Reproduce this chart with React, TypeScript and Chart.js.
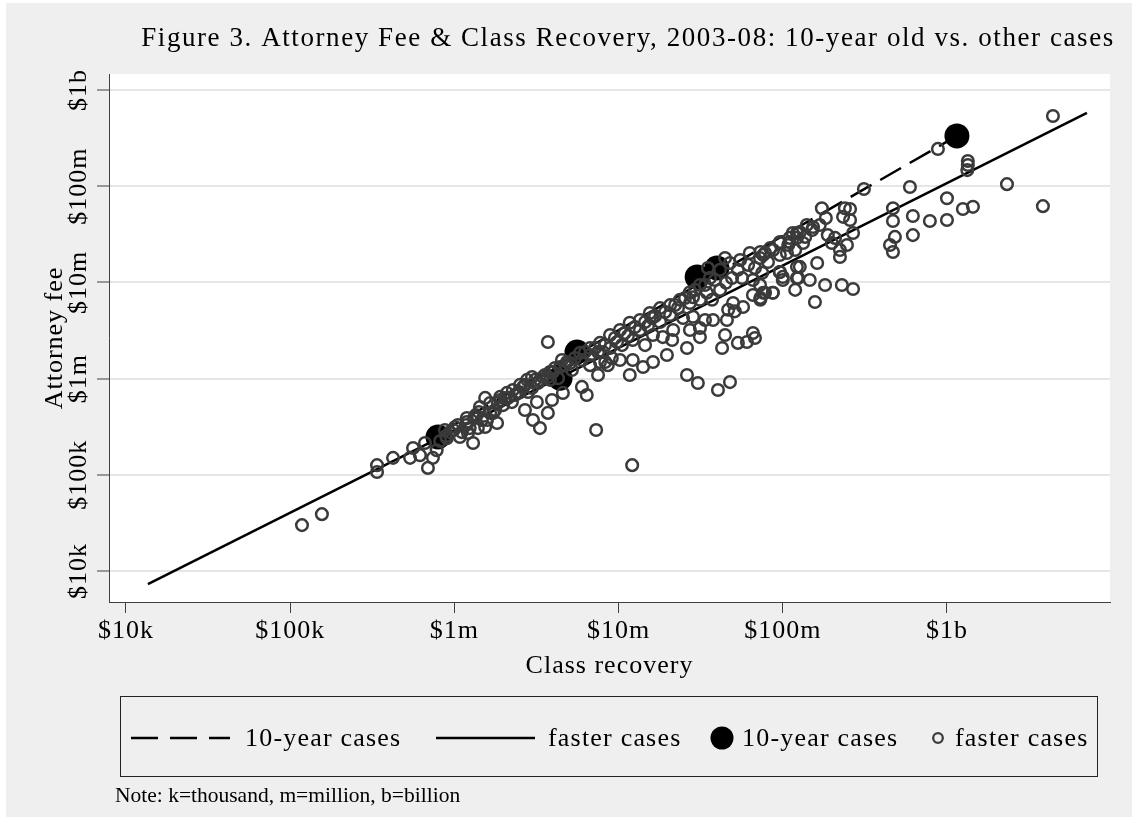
import { useEffect, useRef } from "react";
import { Chart, registerables } from "chart.js";

Chart.register(...registerables);

const W = 1132;
const H = 817;
const FONT = '"Liberation Serif", "DejaVu Serif", serif';
const BG = "#efefef";
const AXIS = "#404040";
const GRID = "#e6e6e6";

const titleText = "Figure 3. Attorney Fee & Class Recovery, 2003-08: 10-year old vs. other cases";
const xTitle = "Class recovery";
const yTitle = "Attorney fee";
const noteText = "Note: k=thousand, m=million, b=billion";
const tickValues = [1e4, 1e5, 1e6, 1e7, 1e8, 1e9];
const tickLabels = ["$10k", "$100k", "$1m", "$10m", "$100m", "$1b"];
const legendLabels = ["10-year cases", "faster cases", "10-year cases", "faster cases"];

// values in $ millions
const tenYearRecovery = [0.794, 4.4, 5.58, 30.1, 39.7, 1150];
const tenYearFee = [0.247, 1.01, 1.89, 11.4, 14.1, 333];

const tenYearFitRecovery = [0.794, 1150];
const tenYearFitFee = [0.266, 333];
const fasterFitRecovery = [0.0136, 7120];
const fasterFitFee = [0.0073, 577];

const fasterRecovery = [
  0.118, 0.156, 0.338, 0.338, 0.423, 0.537, 0.56, 0.662, 0.69, 0.74, 0.78, 0.82, 0.89, 0.94,
  0.876, 0.9, 0.617,
  0.99, 1.01, 1.21, 1.19, 1.3, 1.43, 1.54, 1.54, 1.72, 1.82, 1.9, 1.19, 1.05, 1.11, 1.24, 1.35,
  1.65, 1.77, 2.03, 2.34, 2.69, 2.81, 3.1, 3.56, 4.1, 4.72, 5.42, 6.24, 7.19, 8.27, 9.5,
  1.9, 2.09, 2.27, 2.62, 3.32, 3.82, 4.4, 5.07, 5.82, 6.7, 7.7, 8.87, 10.2, 11.7, 13.5, 15.5,
  17.9, 20.6, 23.7, 27.2, 31.3, 36, 41.5, 47.7, 55, 63, 73, 84, 96, 110, 122,
  10.9, 12.6, 14.5, 16.7, 19.2, 22.1, 25.4, 29.2, 33.6, 38.7, 44.5, 35,
  1.08, 1.18, 1.32, 1.41, 1.47, 1.65, 1.84, 1.98, 2.12, 2.24, 2.44, 2.51, 2.77, 2.97, 3.23, 3.46,
  3.82, 3.98, 4.28, 4.85, 5.2, 5.98, 6.7, 7.5, 7.7, 8.04, 8.87, 9.78, 10.5, 11.4, 12.2, 13.5,
  15.1, 16, 17.9, 20.6, 23, 24.7, 27.2, 28.4, 31.3, 34.5, 37.1, 41.5, 45.1, 49.1, 53.3, 56.5,
  61.5, 67.7, 72.7, 81.3, 87.3, 96, 108, 119, 137, 151, 168, 183,
  10.2, 14.5, 21.2, 33.6, 51, 72.7, 119,
  3.71, 6.4, 5.98, 7.5, 8.3, 4.52, 4.58, 3.93, 3.18, 2.97, 3.71, 2.51, 3.01, 3.71, 2.69, 1.58,
  1.39, 3.32, 8.6, 9.1, 6.7, 7.3, 12.1,
  12.2, 11.7, 14.1, 16.2, 19.7, 26.1, 26.1, 30.4, 40.3, 47.7, 42.7, 53.3, 60.5, 67.7, 65.8,
  44.5, 31.3, 31.3, 37.6, 45.7, 46.5, 57.3, 65.8, 76, 87, 73, 27.2, 21.5, 18.6, 16.2, 28.4,
  49.8, 65.8, 76, 96, 100, 122, 122,
  4420, 881, 1340, 1340, 1330, 2320, 3840, 595, 1000, 1440, 1250, 1000, 787, 620, 620, 469,
  469, 482, 450, 469, 312, 173, 239, 257, 233, 257, 268, 246, 223, 223, 199, 188, 208, 153,
  140, 127, 115, 122, 133, 110, 96, 106, 78, 162, 127, 124, 100, 96, 146, 75, 181, 229, 268,
  157, 78, 87, 73,
];
const fasterFee = [
  0.03, 0.039, 0.126, 0.107, 0.15, 0.15, 0.19, 0.214, 0.118, 0.15, 0.18, 0.225, 0.253, 0.278,
  0.292, 0.24, 0.16,
  0.292, 0.314, 0.272, 0.354, 0.214, 0.507, 0.63, 0.314, 0.44, 0.346, 0.645, 0.39, 0.329, 0.278, 0.306, 0.418,
  0.558, 0.472, 0.628, 0.675, 0.86, 0.727, 0.97, 1.09, 1.29, 1.38, 1.64, 1.89, 2.08, 2.23, 2.64,
  0.6, 0.71, 0.76, 0.82, 0.97, 1.17, 1.32, 1.45, 1.85, 2.08, 2.35, 2.84, 3.2, 3.8, 4.06, 4.8,
  5.4, 5.8, 6.6, 7.9, 9.4, 11.1, 13.5, 15.9, 17.1, 20.2, 20.7, 22.8, 25.7, 29, 32.6,
  2.98, 3.44, 3.88, 4.48, 4.93, 5.83, 6.88, 8.36, 9.4, 10.6, 17.9, 14.1,
  0.247, 0.329, 0.39, 0.45, 0.371, 0.44, 0.558, 0.53, 0.628, 0.57, 0.71, 0.86, 0.97, 0.8, 0.9, 1.04,
  0.97, 1.17, 1.01, 1.49, 1.23, 1.56, 1.76, 1.89, 1.49, 1.89, 2.08, 2.4, 2.23, 2.77, 2.52, 3.2,
  3.52, 4.27, 3.88, 4.58, 5.42, 4.27, 6.1, 7.0, 6.6, 7.8, 6.6, 8.36, 9.9, 11.1, 13.5, 11.1,
  15.2, 14.1, 17.9, 16.3, 21.7, 19.3, 24.5, 21.7, 29.7, 35, 39.5, 46.6,
  1.56, 2.23, 2.52, 4.06, 5.0, 9.4, 8.36,
  2.4, 0.675, 0.82, 1.09, 1.49, 1.56, 0.71, 0.6, 0.57, 1.04, 1.04, 0.72, 0.371, 0.44, 0.472, 0.371,
  0.306, 0.306, 1.38, 1.64, 1.38, 0.292, 0.126,
  1.56, 1.09, 1.32, 1.49, 1.76, 2.08, 1.09, 0.9, 0.76, 0.92, 2.08, 2.35, 2.4, 2.64, 2.98,
  2.84, 2.7, 3.36, 4.06, 4.06, 5.2, 5.55, 7.4, 7.8, 7.8, 6.6, 3.2, 3.2, 2.7, 2.84, 4.4,
  6.1, 10.6, 19.3, 12.8, 10.6, 11.1, 14.5,
  537, 244, 183, 166, 147, 105, 62, 98, 75, 61, 58, 44.5, 43.5, 49, 31, 59,
  43.5, 29.7, 24.5, 20.7, 93.5, 59, 59, 58, 48, 44.5, 32.6, 24.5, 21.7, 18.4, 25.7, 31, 29, 37.7,
  39.5, 33.4, 32.6, 29, 25.7, 26.3, 26.3, 20.2, 20.2, 15.9, 14.5, 11.1, 11.4, 12.8, 10.6, 12.6, 9.4, 9.4, 8.55,
  6.25, 7.8, 7.8, 6.9,
];

const toPoints = (xs: number[], ys: number[]) =>
  xs.map((x, i) => ({ x: x * 1e6, y: ys[i] * 1e6 }));

function drawText(
  ctx: CanvasRenderingContext2D,
  s: string,
  x: number,
  y: number,
  size: number,
  o: { align?: CanvasTextAlign; fit?: number; spacing?: number; rotate?: boolean } = {}
) {
  ctx.save();
  ctx.font = `${size}px ${FONT}`;
  ctx.fillStyle = "#000";
  ctx.textBaseline = "alphabetic";
  (ctx as any).letterSpacing = "0px";
  let sp = o.spacing || 0;
  if (o.fit) {
    const w = ctx.measureText(s).width;
    sp = (o.fit - w) / Math.max(1, s.length - 1);
  }
  (ctx as any).letterSpacing = sp + "px";
  ctx.translate(x, y);
  if (o.rotate) ctx.rotate(-Math.PI / 2);
  ctx.textAlign = o.align || "left";
  ctx.fillText(s, 0, 0);
  ctx.restore();
}

const decorPlugin = {
  id: "decor",
  beforeDraw(chart: any) {
    const ctx: CanvasRenderingContext2D = chart.ctx;
    const a = chart.chartArea;
    ctx.save();
    ctx.fillStyle = "#ffffff";
    ctx.fillRect(0, 0, W, H);
    ctx.fillStyle = BG;
    ctx.fillRect(6, 3, W - 6, H - 3);
    ctx.fillStyle = "#ffffff";
    ctx.fillRect(a.left, a.top, a.right - a.left, a.bottom - a.top);
    ctx.restore();
  },
  afterDraw(chart: any) {
    const ctx: CanvasRenderingContext2D = chart.ctx;
    const a = chart.chartArea;
    const xs = chart.scales.x;
    const ys = chart.scales.y;
    const cx = (a.left + a.right) / 2;
    const cy = (a.top + a.bottom) / 2;

    drawText(ctx, titleText, 628, 46, 27, { align: "center", fit: 972 });

    tickValues.forEach((v, i) => {
      drawText(ctx, tickLabels[i], xs.getPixelForValue(v), 638, 26, { align: "center", spacing: 1 });
      drawText(ctx, tickLabels[i], 86, ys.getPixelForValue(v), 26, { align: "center", spacing: 1, rotate: true });
    });
    drawText(ctx, xTitle, cx, 673, 26, { align: "center", spacing: 1 });
    drawText(ctx, yTitle, 62, cy, 26, { align: "center", spacing: 1, rotate: true });

    // legend box
    const top = 696;
    const bottom = 776;
    const mid = 738;
    ctx.save();
    ctx.strokeStyle = "#222";
    ctx.lineWidth = 1;
    ctx.strokeRect(120.5, top + 0.5, 977, bottom - top);
    ctx.strokeStyle = "#000";
    ctx.lineWidth = 2.5;
    ctx.setLineDash([27, 12]);
    ctx.beginPath();
    ctx.moveTo(131, mid);
    ctx.lineTo(230, mid);
    ctx.stroke();
    ctx.setLineDash([]);
    ctx.beginPath();
    ctx.moveTo(436, mid);
    ctx.lineTo(535, mid);
    ctx.stroke();
    ctx.fillStyle = "#000";
    ctx.beginPath();
    ctx.arc(722, mid, 11.5, 0, Math.PI * 2);
    ctx.fill();
    ctx.strokeStyle = "#3c3c3c";
    ctx.lineWidth = 2.3;
    ctx.beginPath();
    ctx.arc(938, mid, 4.8, 0, Math.PI * 2);
    ctx.stroke();
    ctx.restore();
    drawText(ctx, legendLabels[0], 245, mid + 8, 26, { spacing: 1.2 });
    drawText(ctx, legendLabels[1], 548, mid + 8, 26, { spacing: 1.2 });
    drawText(ctx, legendLabels[2], 742, mid + 8, 26, { spacing: 1.2 });
    drawText(ctx, legendLabels[3], 955, mid + 8, 26, { spacing: 1.2 });

    drawText(ctx, noteText, 115, 802, 21.5);
  },
};

export default function App() {
  const ref = useRef<HTMLCanvasElement>(null);
  useEffect(() => {
    const canvas = ref.current!;
    const chart = new Chart(canvas, {
      type: "scatter",
      data: {
        datasets: [
          {
            label: legendLabels[0],
            data: toPoints(tenYearFitRecovery, tenYearFitFee),
            showLine: true,
            borderColor: "#000",
            borderWidth: 2.5,
            borderDash: [24, 10],
            pointRadius: 0,
            order: 3,
          },
          {
            label: legendLabels[1],
            data: toPoints(fasterFitRecovery, fasterFitFee),
            showLine: true,
            borderColor: "#000",
            borderWidth: 2.5,
            pointRadius: 0,
            order: 2,
          },
          {
            label: legendLabels[2],
            data: toPoints(tenYearRecovery, tenYearFee),
            pointRadius: 12.5,
            backgroundColor: "#000",
            borderColor: "#000",
            borderWidth: 0,
            order: 1,
          },
          {
            label: legendLabels[3],
            data: toPoints(fasterRecovery, fasterFee),
            pointRadius: 5.8,
            backgroundColor: "rgba(0,0,0,0)",
            borderColor: "#3a3a3a",
            borderWidth: 2.5,
            order: 0,
          },
        ],
      },
      options: {
        responsive: false,
        animation: false,
        devicePixelRatio: 1,
        layout: { padding: { left: 0, right: 22, top: 74, bottom: 0 } },
        plugins: {
          legend: { display: false },
          title: { display: false },
          tooltip: { enabled: false },
        },
        scales: {
          x: {
            type: "logarithmic",
            position: "bottom",
            min: Math.pow(10, 3.8965),
            max: Math.pow(10, 9.993),
            afterBuildTicks: (s: any) => {
              s.ticks = tickValues.map((v) => ({ value: v }));
            },
            afterFit: (s: any) => {
              s.height = H - 602;
            },
            ticks: { display: false },
            grid: {
              drawOnChartArea: false,
              drawTicks: true,
              tickLength: 11,
              tickColor: AXIS,
              tickWidth: 1,
            },
            border: { display: true, color: AXIS, width: 1 },
          },
          y: {
            type: "logarithmic",
            position: "left",
            min: Math.pow(10, 3.678),
            max: Math.pow(10, 9.166),
            afterBuildTicks: (s: any) => {
              s.ticks = tickValues.map((v) => ({ value: v }));
            },
            afterFit: (s: any) => {
              s.width = 109;
            },
            ticks: { display: false },
            grid: {
              color: GRID,
              lineWidth: 2,
              drawTicks: true,
              tickLength: 12,
              tickColor: AXIS,
              tickWidth: 1,
            },
            border: { display: true, color: AXIS, width: 1 },
          },
        },
      },
      plugins: [decorPlugin],
    } as any);
    return () => chart.destroy();
  }, []);
  return (
    <div style={{ position: "fixed", left: 0, top: 0, width: W, height: H }}>
      <canvas ref={ref} width={W} height={H} style={{ display: "block", width: W, height: H }} />
    </div>
  );
}
